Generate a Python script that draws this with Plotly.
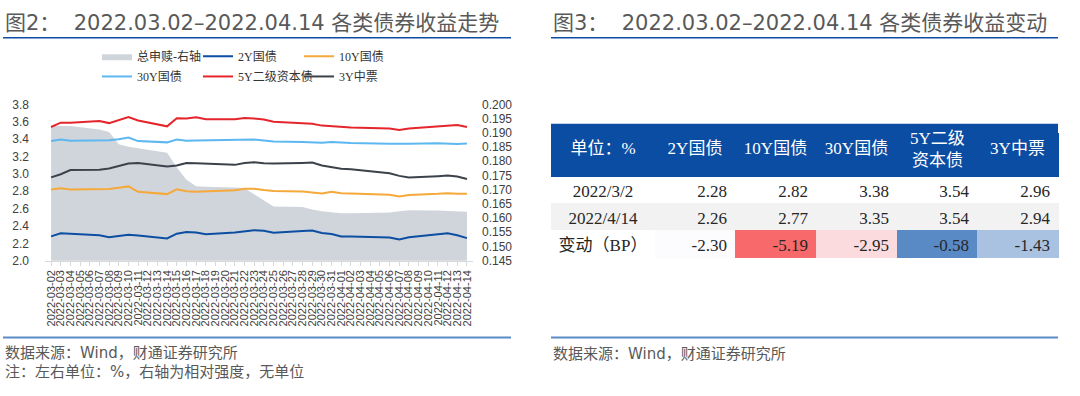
import plotly.graph_objects as go

W, H = 1080, 396

# ---------------- data ----------------
dates = ["2022-03-02", "2022-03-03", "2022-03-04", "2022-03-07", "2022-03-08", "2022-03-09",
         "2022-03-10", "2022-03-11", "2022-03-14", "2022-03-15", "2022-03-16", "2022-03-17",
         "2022-03-18", "2022-03-21", "2022-03-22", "2022-03-23", "2022-03-24", "2022-03-25",
         "2022-03-28", "2022-03-29", "2022-03-30", "2022-03-31", "2022-04-01", "2022-04-02",
         "2022-04-06", "2022-04-07", "2022-04-08", "2022-04-11", "2022-04-12", "2022-04-13",
         "2022-04-14"]

redemption = [0.1924, 0.1924, 0.1924, 0.1912, 0.1903, 0.1860, 0.1851, 0.1846, 0.1830, 0.1778,
              0.1735, 0.1712, 0.1710, 0.1708, 0.1705, 0.1684, 0.1662, 0.1641, 0.1639, 0.1630,
              0.1624, 0.1620, 0.1617, 0.1617, 0.1620, 0.1624, 0.1628, 0.1627, 0.1626, 0.1625,
              0.1622]
cgb2y = [2.28, 2.315, 2.311, 2.292, 2.27, 2.289, 2.30, 2.289, 2.256, 2.311, 2.33, 2.326, 2.304,
         2.326, 2.341, 2.352, 2.344, 2.322, 2.341, 2.348, 2.319, 2.307, 2.278, 2.278, 2.267,
         2.244, 2.27, 2.304, 2.315, 2.293, 2.26]
cgb10y = [2.82, 2.833, 2.819, 2.819, 2.826, 2.841, 2.856, 2.793, 2.767, 2.822, 2.80, 2.793,
          2.796, 2.811, 2.83, 2.83, 2.815, 2.804, 2.796, 2.789, 2.774, 2.793, 2.778, 2.774,
          2.759, 2.74, 2.756, 2.77, 2.778, 2.77, 2.77]
cgb30y = [3.38, 3.396, 3.381, 3.381, 3.388, 3.40, 3.418, 3.378, 3.363, 3.396, 3.381, 3.385,
          3.388, 3.396, 3.40, 3.396, 3.385, 3.374, 3.366, 3.363, 3.359, 3.366, 3.359, 3.355,
          3.348, 3.344, 3.348, 3.352, 3.348, 3.344, 3.35]
tier2_5y = [3.54, 3.59, 3.59, 3.61, 3.585, 3.62, 3.655, 3.615, 3.548, 3.64, 3.637, 3.652, 3.63,
            3.63, 3.644, 3.637, 3.626, 3.60, 3.589, 3.578, 3.556, 3.55, 3.537, 3.533, 3.522,
            3.507, 3.522, 3.548, 3.559, 3.563, 3.54]
mtn3y = [2.96, 2.996, 3.044, 3.048, 3.063, 3.092, 3.119, 3.126, 3.085, 3.096, 3.126, 3.122,
         3.119, 3.104, 3.126, 3.133, 3.122, 3.119, 3.126, 3.13, 3.096, 3.078, 3.059, 3.052,
         3.007, 2.977, 2.959, 2.974, 2.981, 2.97, 2.94]

left_ticks = [2.0, 2.2, 2.4, 2.6, 2.8, 3.0, 3.2, 3.4, 3.6, 3.8]
right_ticks = [0.145, 0.150, 0.155, 0.160, 0.165, 0.170, 0.175, 0.180, 0.185, 0.190, 0.195, 0.200]

table_header = ["单位：%", "2Y国债", "10Y国债", "30Y国债", "5Y二级<br>资本债", "3Y中票"]
row_labels = ["2022/3/2", "2022/4/14", "变动（BP）"]
yield_start = [2.28, 2.82, 3.38, 3.54, 2.96]
yield_end = [2.26, 2.77, 3.35, 3.54, 2.94]
change_bp = [-2.30, -5.19, -2.95, -0.58, -1.43]

# ---------------- styles ----------------
GREY_TXT = "#595959"
SERIF = "Liberation Serif, Noto Sans CJK SC"
SANS = "DejaVu Sans, Noto Sans CJK SC"
HDR = "#0B4DA2"

def px_x(p):
    return p / W

def px_y(p):
    return 1 - p / H

fig = go.Figure()

# area on base axis (right-side scale) so the yield lines draw above it
fig.add_trace(go.Scatter(x=dates, y=redemption, name="总申赎-右轴", mode="lines",
                         fill="tozeroy", fillcolor="#D0D5DB", line=dict(width=0, color="#D0D5DB"),
                         xaxis="x", yaxis="y", legend="legend"))
line_specs = [
    ("2Y国债", cgb2y, "#0B4EA2", "legend"),
    ("10Y国债", cgb10y, "#F4A93A", "legend"),
    ("30Y国债", cgb30y, "#5DB7F0", "legend2"),
    ("5Y二级资本债", tier2_5y, "#E4262C", "legend2"),
    ("3Y中票", mtn3y, "#3C424A", "legend2"),
]
for name, vals, col, lg in line_specs:
    fig.add_trace(go.Scatter(x=dates, y=vals, name=name, mode="lines",
                             line=dict(color=col, width=2), xaxis="x", yaxis="y2", legend=lg))

# ---------------- table ----------------
def scale3(v, vals):
    lo, hi = min(vals), max(vals)
    s = sorted(vals)
    mid = s[len(s) // 2]
    red, white, blue = (248, 105, 107), (252, 252, 255), (90, 138, 198)
    if v <= mid:
        t = (v - lo) / (mid - lo) if mid != lo else 1
        a, b = red, white
    else:
        t = (v - mid) / (hi - mid) if hi != mid else 1
        a, b = white, blue
    c = [round(a[k] + (b[k] - a[k]) * t) for k in range(3)]
    return "rgb(%d,%d,%d)" % tuple(c)

cols_vals = [row_labels]
fills = [["white", "#F2F2F2", "white"]]
for s, e, c in zip(yield_start, yield_end, change_bp):
    cols_vals.append(["%.2f" % s, "%.2f" % e, "%.2f" % c])
    fills.append(["white", "#F2F2F2", scale3(c, change_bp)])

col_w = [104, 80, 81, 81, 80, 81]
TBL_X0, TBL_X1 = 551, 1058
HDR_TOP = 121          # visual top of the blue header band
TBL_TOP = 131          # where the plotly table itself starts
# multi-line header labels are placed as text over their header cell
hdr_in_table = [h if "<br>" not in h else "" for h in table_header]

fig.add_trace(go.Table(
    domain=dict(x=[px_x(TBL_X0), px_x(TBL_X1)], y=[px_y(262), px_y(TBL_TOP)]),
    columnwidth=col_w,
    header=dict(values=hdr_in_table, fill_color=HDR, align="center", height=43,
                font=dict(family=SERIF, size=17, color="white"),
                line=dict(color=HDR, width=1)),
    cells=dict(values=cols_vals, fill_color=fills, height=27,
               align=["center", "right", "right", "right", "right", "right"],
               font=dict(family=SERIF, size=17, color="#262626"),
               line=dict(color=fills, width=1)),
))

# ---------------- layout ----------------
shapes = [
    dict(type="line", xref="paper", yref="paper", x0=px_x(3), x1=px_x(511), y0=px_y(32), y1=px_y(32),
         line=dict(color="#0B4DA2", width=1.5)),
    dict(type="line", xref="paper", yref="paper", x0=px_x(551), x1=px_x(1058), y0=px_y(32), y1=px_y(32),
         line=dict(color="#0B4DA2", width=1.5)),
    dict(type="line", xref="paper", yref="paper", x0=px_x(3), x1=px_x(511), y0=px_y(342.5), y1=px_y(342.5),
         line=dict(color="#5B8BC5", width=2)),
    dict(type="line", xref="paper", yref="paper", x0=px_x(551), x1=px_x(1058), y0=px_y(342.5), y1=px_y(342.5),
         line=dict(color="#5B8BC5", width=2)),
    dict(type="rect", xref="paper", yref="paper", x0=px_x(TBL_X0), x1=px_x(TBL_X1),
         y0=px_y(TBL_TOP + 1), y1=px_y(HDR_TOP),
         fillcolor=HDR, line=dict(width=0), layer="below"),
]

annotations = [
    dict(text="图2：  2022.03.02–2022.04.14 各类债券收益走势", x=px_x(3), y=px_y(17), xref="paper", yref="paper",
         xanchor="left", yanchor="middle", showarrow=False, font=dict(family=SANS, size=21, color=GREY_TXT)),
    dict(text="图3：  2022.03.02–2022.04.14 各类债券收益变动", x=px_x(551), y=px_y(17), xref="paper", yref="paper",
         xanchor="left", yanchor="middle", showarrow=False, font=dict(family=SANS, size=21, color=GREY_TXT)),
    dict(text="数据来源：Wind，财通证券研究所", x=px_x(3), y=px_y(359), xref="paper", yref="paper",
         xanchor="left", yanchor="middle", showarrow=False, font=dict(family=SANS, size=15, color=GREY_TXT)),
    dict(text="注：左右单位：%，右轴为相对强度，无单位", x=px_x(3), y=px_y(378), xref="paper", yref="paper",
         xanchor="left", yanchor="middle", showarrow=False, font=dict(family=SANS, size=15, color=GREY_TXT)),
    dict(text="数据来源：Wind，财通证券研究所", x=px_x(551), y=px_y(360), xref="paper", yref="paper",
         xanchor="left", yanchor="middle", showarrow=False, font=dict(family=SANS, size=15, color=GREY_TXT)),
]
# multi-line header labels centred in their header cell
tot_w = sum(col_w)
acc = 0
for h, w in zip(table_header, col_w):
    if "<br>" in h:
        cx = TBL_X0 + (acc + w / 2) / tot_w * (TBL_X1 - TBL_X0)
        annotations.append(dict(text=h, x=px_x(cx), y=px_y(148), xref="paper", yref="paper",
                                xanchor="center", yanchor="middle", showarrow=False,
                                font=dict(family=SERIF, size=17, color="white")))
    acc += w

legend_common = dict(orientation="h", xanchor="left", yanchor="middle", bgcolor="rgba(0,0,0,0)",
                     font=dict(family=SERIF, size=12, color="#333333"), entrywidthmode="pixels",
                     entrywidth=56, itemwidth=30, tracegroupgap=0)

fig.update_layout(
    width=W, height=H, margin=dict(l=0, r=0, t=0, b=0),
    paper_bgcolor="white", plot_bgcolor="white",
    xaxis=dict(type="date", domain=[px_x(45), px_x(473)],
               range=["2022-03-01 09:00", "2022-04-14 15:00"],
               tick0="2022-03-02", dtick=86400000, tickformat="%Y-%m-%d", tickangle=-90,
               ticks="outside", ticklen=4, tickcolor="#D9D9D9", showline=True, linecolor="#D9D9D9",
               linewidth=1, showgrid=False, zeroline=False, anchor="y",
               tickfont=dict(family="Liberation Sans, Arial", size=11, color="#404040")),
    yaxis=dict(domain=[px_y(263), px_y(101)], range=[0.145, 0.200], side="right",
               tickvals=right_ticks, ticktext=["%.3f" % v for v in right_ticks],
               showgrid=False, zeroline=False, showline=False, ticks="", ticklabelstandoff=8,
               anchor="x", tickfont=dict(family="Liberation Sans, Arial", size=12, color="#404040")),
    yaxis2=dict(range=[2.0, 3.8], overlaying="y", side="left", anchor="x",
                tickvals=left_ticks, ticktext=["%.1f" % v for v in left_ticks],
                showgrid=False, zeroline=False, showline=False, ticks="", ticklabelstandoff=15,
                tickfont=dict(family="Liberation Sans, Arial", size=12, color="#404040")),
    legend=dict(x=px_x(97), y=px_y(51), **legend_common),
    legend2=dict(x=px_x(97), y=px_y(72), **legend_common),
    shapes=shapes,
    annotations=annotations,
    showlegend=True,
)

fig.write_html("out.html", config={"displayModeBar": False},
               post_script="document.body.style.margin='0';document.body.style.overflow='hidden';")
